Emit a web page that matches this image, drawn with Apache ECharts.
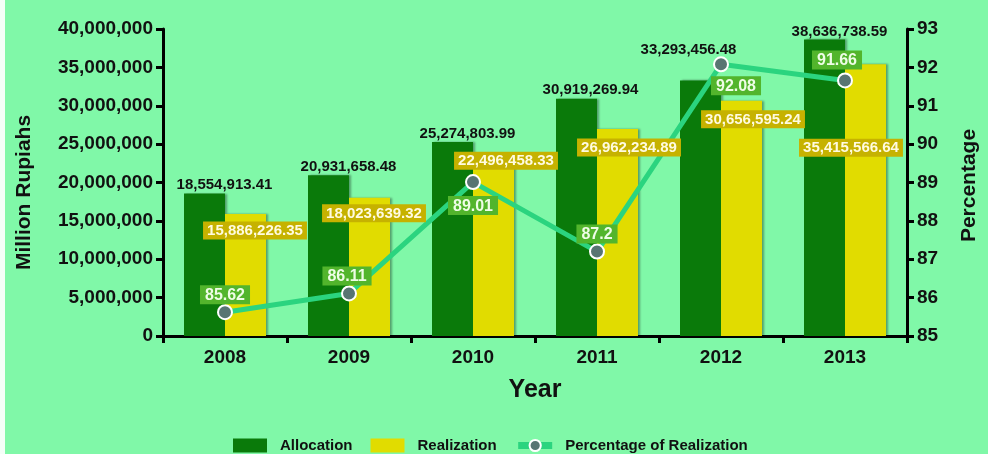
<!DOCTYPE html>
<html>
<head>
<meta charset="utf-8">
<script src="https://cdn.jsdelivr.net/npm/echarts@6/dist/echarts.min.js"></script>
<style>
html,body{margin:0;padding:0;background:#fff;}
#chart{width:988px;height:454px;}
</style>
</head>
<body>
<div id="chart"></div>
<script>
// ---- data ----
const years = ['2008', '2009', '2010', '2011', '2012', '2013'];
const allocation = [18554913.41, 20931658.48, 25274803.99, 30919269.94, 33293456.48, 38636738.59];
const realization = [15886226.35, 18023639.32, 22496458.33, 26962234.89, 30656595.24, 35415566.64];
const percentage = [85.62, 86.11, 89.01, 87.2, 92.08, 91.66];
const leftTicks = { min: 0, max: 40000000, interval: 5000000 };
const rightTicks = { min: 85, max: 93, interval: 1 };

// ---- label layout (styling, not data) ----
const allocLabelOffset = [[20, 4], [20, 4], [15, 4], [14, 4], [-12, -18], [15, 5]];
const realLabelOffset = [[30, 31], [25, 30], [33, 12], [32, 33], [32, 33], [6, 98]];
const pctLabelLayout = [['top', 0, 0], ['top', -2, 0], ['bottom', 0, 6], ['top', 0, 0], ['bottom', 15, 4], ['top', -8, -3]];

const fmt = v => v.toLocaleString('en-US', { minimumFractionDigits: 2, maximumFractionDigits: 2 });
const FONT = '"Liberation Sans", Arial, sans-serif';

const chart = echarts.init(document.getElementById('chart'));
chart.setOption({
  backgroundColor: '#80f8a8',
  animation: false,
  textStyle: { fontFamily: FONT },
  graphic: [{ type: 'rect', left: 0, top: 0, shape: { width: 5, height: 454 }, style: { fill: '#f4fff8' } }],
  grid: { left: 163, right: 79, top: 29, bottom: 118 },
  legend: {
    top: 433, left: 228, itemWidth: 34, itemHeight: 14, itemGap: 18,
    textStyle: { fontFamily: FONT, fontSize: 15, fontWeight: 'bold', color: '#111', padding: [0, 0, 0, 8] },
    data: [
      { name: 'Allocation', icon: 'rect' },
      { name: 'Realization', icon: 'rect' },
      { name: 'Percentage of Realization', itemStyle: { color: '#587572', borderColor: '#fff', borderWidth: 2 },
        lineStyle: { width: 7, color: '#2bd47f' } }
    ]
  },
  xAxis: {
    type: 'category', data: years,
    name: 'Year', nameLocation: 'middle', nameGap: 42,
    nameTextStyle: { fontSize: 25, fontWeight: 'bold', color: '#111', fontFamily: FONT },
    axisLine: { lineStyle: { color: '#000', width: 3 } },
    axisTick: { show: true, length: 7, lineStyle: { color: '#000', width: 3 } },
    axisLabel: { fontSize: 19, fontWeight: 'bold', color: '#111', margin: 12, fontFamily: FONT }
  },
  yAxis: [{
    type: 'value', min: leftTicks.min, max: leftTicks.max, interval: leftTicks.interval,
    name: 'Million Rupiahs', nameLocation: 'middle', nameGap: 128,
    nameTextStyle: { fontSize: 21, fontWeight: 'bold', color: '#111', fontFamily: FONT, padding: [0, 20, 0, 0] },
    axisLine: { show: true, lineStyle: { color: '#000', width: 3 } },
    axisTick: { show: true, length: 7, lineStyle: { color: '#000', width: 3 } },
    splitLine: { show: false },
    axisLabel: { fontSize: 19, fontWeight: 'bold', color: '#111', margin: 10, fontFamily: FONT,
      formatter: v => v.toLocaleString('en-US') }
  }, {
    type: 'value', min: rightTicks.min, max: rightTicks.max, interval: rightTicks.interval,
    name: 'Percentage', nameLocation: 'middle', nameGap: 52,
    nameTextStyle: { fontSize: 21, fontWeight: 'bold', color: '#111', fontFamily: FONT, padding: [0, 6, 0, 0] },
    axisLine: { show: true, lineStyle: { color: '#000', width: 3 } },
    axisTick: { show: true, length: 7, lineStyle: { color: '#000', width: 3 } },
    splitLine: { show: false },
    axisLabel: { fontSize: 19, fontWeight: 'bold', color: '#111', margin: 10, fontFamily: FONT }
  }],
  series: [{
    name: 'Allocation', type: 'bar', barWidth: 41, barGap: '0%',
    itemStyle: { color: '#0a7a0a', shadowColor: 'rgba(0,0,0,0.35)', shadowOffsetX: 2, shadowBlur: 2 },
    data: allocation.map((v, i) => ({
      value: v,
      label: { show: true, position: 'top', offset: allocLabelOffset[i], formatter: () => fmt(v),
        fontSize: 15, fontWeight: 'bold', color: '#111', fontFamily: FONT }
    }))
  }, {
    name: 'Realization', type: 'bar', barWidth: 41,
    itemStyle: { color: '#e1dc00', shadowColor: 'rgba(0,0,0,0.35)', shadowOffsetX: 2, shadowBlur: 2 },
    data: realization
  }, {
    name: 'Percentage of Realization', type: 'line', yAxisIndex: 1, z: 5,
    symbol: 'circle', symbolSize: 14,
    lineStyle: { color: '#2bd47f', width: 5 },
    itemStyle: { color: '#587572', borderColor: '#ffffff', borderWidth: 2 },
    data: percentage.map((v, i) => ({
      value: v,
      label: { show: true, position: pctLabelLayout[i][0], distance: 0,
        offset: [pctLabelLayout[i][1], pctLabelLayout[i][2]],
        formatter: () => String(v),
        fontSize: 16, fontWeight: 'bold', color: '#eefde6', fontFamily: FONT,
        backgroundColor: '#52b52c', padding: [2, 5, 1, 5] }
    }))
  }, {
    // label carrier for realization values (drawn above the line)
    name: 'realizationLabels', type: 'scatter', z: 8, symbolSize: 1, silent: true,
    itemStyle: { opacity: 1, color: 'rgba(0,0,0,0)' },
    data: realization.map((v, i) => ({
      value: [years[i], v],
      label: { show: true, position: 'top', distance: 5, offset: realLabelOffset[i], formatter: () => fmt(v),
        opacity: 1, fontSize: 15, fontWeight: 'bold', color: '#fffbe0', fontFamily: FONT,
        backgroundColor: '#c6b200', padding: [2, 4, 1, 4] }
    }))
  }]
});
</script>
</body>
</html>
